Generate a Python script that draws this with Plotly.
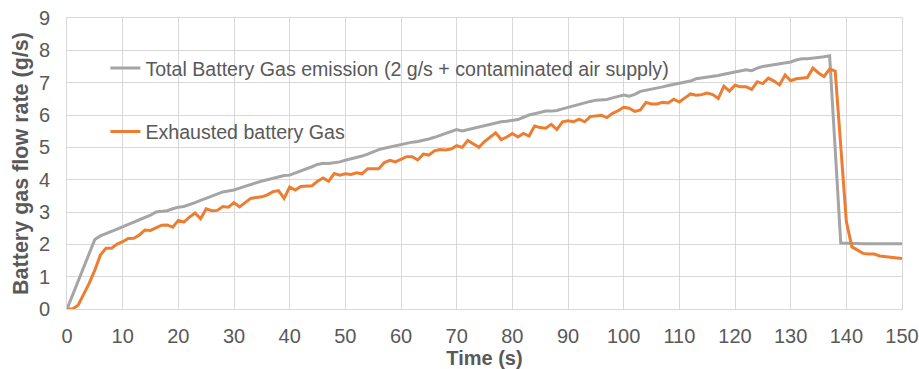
import plotly.graph_objects as go

time_s = list(range(0, 151))

total_emission = [
    0, 0.43, 0.86, 1.29, 1.72, 2.15, 2.26, 2.34, 2.40, 2.47,
    2.55, 2.62, 2.69, 2.76, 2.82, 2.90, 3.00, 3.02, 3.04, 3.10,
    3.15, 3.17, 3.22, 3.29, 3.36, 3.43, 3.49, 3.57, 3.62, 3.65,
    3.68, 3.74, 3.80, 3.85, 3.91, 3.96, 4.00, 4.04, 4.08, 4.13,
    4.14, 4.20, 4.28, 4.33, 4.40, 4.47, 4.51, 4.50, 4.52, 4.55,
    4.60, 4.64, 4.68, 4.73, 4.79, 4.86, 4.93, 4.97, 5.01, 5.04,
    5.07, 5.12, 5.16, 5.18, 5.21, 5.26, 5.31, 5.37, 5.42, 5.50,
    5.55, 5.51, 5.55, 5.59, 5.62, 5.66, 5.72, 5.76, 5.79, 5.81,
    5.84, 5.86, 5.93, 6.00, 6.04, 6.08, 6.12, 6.12, 6.14, 6.19,
    6.24, 6.28, 6.33, 6.37, 6.42, 6.46, 6.47, 6.48, 6.53, 6.58,
    6.62, 6.58, 6.64, 6.73, 6.76, 6.80, 6.83, 6.87, 6.91, 6.94,
    6.97, 7.00, 7.05, 7.12, 7.14, 7.17, 7.20, 7.22, 7.26, 7.30,
    7.34, 7.37, 7.40, 7.37, 7.45, 7.50, 7.53, 7.56, 7.58, 7.61,
    7.64, 7.70, 7.74, 7.74, 7.75, 7.78, 7.80, 7.83, None, 2.04,
    2.03, 2.03, 2.02, 2.02, 2.02, 2.02, 2.02, 2.02, 2.02, 2.02,
    2.02,
]

exhausted_gas = [
    0, 0, 0.12, 0.45, 0.80, 1.20, 1.67, 1.88, 1.88, 2.01,
    2.08, 2.18, 2.19, 2.29, 2.44, 2.43, 2.50, 2.59, 2.60, 2.53,
    2.74, 2.69, 2.84, 2.97, 2.79, 3.10, 3.04, 3.05, 3.17, 3.15,
    3.29, 3.16, 3.29, 3.42, 3.45, 3.47, 3.53, 3.63, 3.66, 3.42,
    3.77, 3.68, 3.79, 3.79, 3.81, 3.95, 4.05, 3.95, 4.19, 4.14,
    4.18, 4.16, 4.21, 4.18, 4.34, 4.34, 4.34, 4.53, 4.60, 4.55,
    4.63, 4.71, 4.71, 4.61, 4.79, 4.76, 4.89, 4.93, 4.92, 4.95,
    5.05, 5.00, 5.21, 5.11, 5.00, 5.18, 5.33, 5.45, 5.24, 5.32,
    5.43, 5.32, 5.43, 5.35, 5.66, 5.61, 5.59, 5.71, 5.55, 5.79,
    5.82, 5.79, 5.87, 5.79, 5.95, 5.97, 5.99, 5.92, 6.05, 6.13,
    6.24, 6.21, 6.11, 6.16, 6.39, 6.34, 6.34, 6.39, 6.37, 6.49,
    6.40, 6.53, 6.65, 6.61, 6.63, 6.68, 6.63, 6.51, 6.89, 6.74,
    6.92, 6.87, 6.87, 6.79, 7.03, 6.97, 7.14, 7.05, 6.93, 7.24,
    7.06, 7.12, 7.14, 7.16, 7.45, 7.30, 7.19, 7.42, 7.36, None,
    2.71, 1.92, 1.82, 1.72, 1.70, 1.70, 1.64, 1.62, 1.60, 1.58,
    1.56,
]

x_ticks = list(range(0, 151, 10))
y_ticks = list(range(0, 10))

GRAY = "#A5A5A5"
ORANGE = "#ED7D31"
TEXT = "#595959"
GRID = "#D9D9D9"
FONT = "Liberation Sans, Arial, sans-serif"

fig = go.Figure()
fig.add_trace(go.Scatter(
    x=time_s, y=total_emission, mode="lines", connectgaps=True,
    name="Total Battery Gas emission (2 g/s + contaminated air supply)",
    legendgroup="a", line=dict(color=GRAY, width=3),
))
fig.add_trace(go.Scatter(
    x=time_s, y=exhausted_gas, mode="lines", connectgaps=True,
    name="Exhausted battery Gas",
    legendgroup="b", line=dict(color=ORANGE, width=3),
))

fig.update_layout(
    width=919, height=369,
    margin=dict(l=67, r=17, t=18, b=60, autoexpand=False),
    paper_bgcolor="white", plot_bgcolor="white",
    font=dict(family=FONT, color=TEXT, size=20),
    legend=dict(
        x=0.046, y=0.894, xanchor="left", yanchor="top",
        bgcolor="rgba(0,0,0,0)", font=dict(size=19.6, color=TEXT),
        traceorder="grouped", tracegroupgap=35,
    ),
    xaxis=dict(
        range=[0, 150], tickvals=x_ticks, ticks="", automargin=False,
        showgrid=True, gridcolor=GRID, gridwidth=1,
        showline=True, linecolor=GRID, mirror=True, zeroline=False,
        tickfont=dict(size=20, color=TEXT), ticklabelstandoff=9,
        title=dict(text="<b>Time (s)</b>", font=dict(size=20, color=TEXT), standoff=0),
    ),
    yaxis=dict(
        range=[0, 9], tickvals=y_ticks, ticks="", automargin=False,
        showgrid=True, gridcolor=GRID, gridwidth=1,
        showline=True, linecolor=GRID, mirror=True, zeroline=False,
        tickfont=dict(size=20, color=TEXT), ticklabelstandoff=12,
        title=dict(text="<b>Battery gas flow rate (g/s)</b>", font=dict(size=21.5, color=TEXT), standoff=4),
    ),
)

fig.write_html("out.html")
